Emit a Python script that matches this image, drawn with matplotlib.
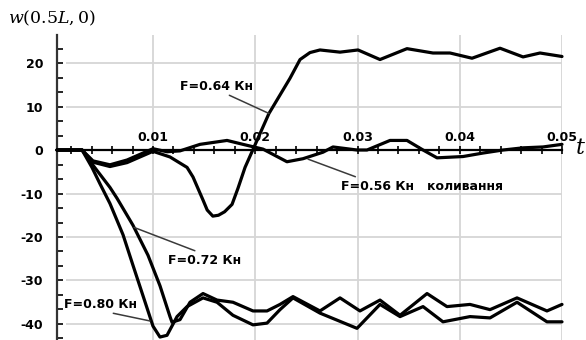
import matplotlib
matplotlib.use('Agg')
import matplotlib.pyplot as plt
from matplotlib.ticker import MultipleLocator, AutoMinorLocator

plt.rcParams['mathtext.fontset'] = 'dejavuserif'

# deflection w(0.5L, 0) vs time t, four load levels
t_056 = [0.00061, 0.00306, 0.00413, 0.00579, 0.00746, 0.00902, 0.0100, 0.01137, 0.01264,
         0.0146, 0.01724, 0.0188, 0.02076, 0.0231, 0.02467, 0.02663, 0.0276, 0.02995,
         0.03093, 0.03318, 0.03484, 0.03641, 0.03778, 0.04032, 0.04227, 0.04423,
         0.04619, 0.04814, 0.05]
w_056 = [0, 0, -2.5, -3.4, -2.3, -0.7, 0.3, -0.4, -0.2,
         1.3, 2.2, 1.3, 0.2, -2.7, -2.0, -0.5, 0.7, 0.0,
         0.0, 2.2, 2.2, 0.0, -1.8, -1.5, -0.7, 0.0,
         0.5, 0.7, 1.3]

t_064 = [0.00061, 0.00306, 0.00413, 0.00579, 0.00746, 0.00902, 0.0100, 0.01166, 0.01333,
         0.01391, 0.01489, 0.0153, 0.01585, 0.0164, 0.01700, 0.01773, 0.01831, 0.019,
         0.02134, 0.0234, 0.02438, 0.02535, 0.02633, 0.02829, 0.03005, 0.0322, 0.03484,
         0.03738, 0.03905, 0.0412, 0.04394, 0.04619, 0.04785, 0.05]
w_064 = [0, 0, -2.8, -3.8, -2.9, -1.3, -0.3, -1.6, -4.0,
         -6.2, -11.5, -13.8, -15.2, -15.0, -14.2, -12.5, -8.8, -4.0,
         8.4, 16.5, 20.8, 22.4, 23.0, 22.5, 23.0, 20.8, 23.3,
         22.3, 22.3, 21.1, 23.4, 21.4, 22.3, 21.5]

t_072 = [0.00061, 0.00306, 0.00413, 0.00579, 0.00648, 0.00804, 0.00951, 0.01068, 0.01166,
         0.01186, 0.01264, 0.01362, 0.01489, 0.01626, 0.01782, 0.01978, 0.02115, 0.02242,
         0.02369, 0.02633, 0.02829, 0.03024, 0.0322, 0.03416, 0.0368, 0.03875, 0.041,
         0.04296, 0.0456, 0.04853, 0.05]
w_072 = [0, 0, -3.5, -8.6, -11.1, -17.3, -24.2, -31.2, -38.3,
         -39.6, -39.0, -35.0, -33.0, -34.5, -35.0, -37.0, -37.0, -35.5,
         -33.7, -37.0, -34.0, -37.0, -34.5, -38.0, -33.0, -36.0, -35.5,
         -36.7, -34.0, -37.0, -35.5]

t_080 = [0.00061, 0.00306, 0.00403, 0.00482, 0.00579, 0.00707, 0.00804, 0.00902, 0.0100,
         0.01068, 0.01137, 0.01235, 0.01333, 0.01489, 0.01626, 0.01782, 0.01978, 0.02115,
         0.02242, 0.02369, 0.02633, 0.02995, 0.0322, 0.03416, 0.03641, 0.03836, 0.041,
         0.04296, 0.0456, 0.04853, 0.05]
w_080 = [0, 0, -4.0, -7.8, -12.3, -19.5, -26.5, -33.5, -40.5,
         -43.0, -42.6, -38.3, -36.0, -34.0, -35.0, -38.0, -40.2, -39.8,
         -36.7, -34.0, -37.5, -41.0, -35.5, -38.3, -36.0, -39.5, -38.3,
         -38.6, -35.0, -39.5, -39.5]

x_ticks = [0.01, 0.02, 0.03, 0.04, 0.05]
x_labels = ['0.01', '0.02', '0.03', '0.04', '0.05']
y_ticks = [-40, -30, -20, -10, 0, 10, 20]
y_labels = ['-40', '-30', '-20', '-10', '0', '10', '20']

W, H = 586, 340


def px(x, y):
    # pixel position (from top-left) -> figure fraction
    return x / W, 1 - y / H


fig = plt.figure(figsize=(W / 100, H / 100), dpi=100)
ax = fig.add_axes([57 / W, 0, (562 - 57) / W, (H - 35) / H])
ax.set_xlim(0.00061, 0.05)
ax.set_ylim(-43.68, 26.44)

grid_c = '#d6d6d6'
for yv in y_ticks:
    if yv != 0:
        ax.hlines(yv, 0.0015, 0.05, color=grid_c, lw=1.3, zorder=1)
for xv in x_ticks:
    ax.axvline(xv, color=grid_c, lw=1.3, zorder=1)

for t, w in [(t_056, w_056), (t_064, w_064), (t_072, w_072), (t_080, w_080)]:
    ax.plot(t, w, color='black', lw=2.3, solid_joinstyle='round',
            solid_capstyle='round', clip_on=False, zorder=3)

# spines: y axis on the left, x axis through zero with labels above
ax.spines['right'].set_visible(False)
ax.spines['bottom'].set_visible(False)
ax.spines['top'].set_position(('data', 0))
ax.spines['top'].set_linewidth(1.6)
ax.spines['left'].set_linewidth(1.6)
ax.spines['left'].set_color('#333333')
ax.xaxis.set_ticks_position('top')
ax.set_xticks(x_ticks)
ax.set_xticklabels(x_labels, fontsize=9, fontweight='bold')
ax.xaxis.set_minor_locator(MultipleLocator(0.002))
ax.tick_params(axis='x', which='both', direction='inout', length=6, width=1.2, pad=1)
ax.set_yticks(y_ticks)
ax.set_yticklabels(y_labels, fontsize=9, fontweight='bold')
ax.yaxis.set_minor_locator(AutoMinorLocator(3))
ax.tick_params(axis='y', which='both', direction='in', length=4, width=1.2, pad=10)

lab = dict(fontsize=9, fontweight='bold', ha='center', va='center',
           textcoords='figure fraction', annotation_clip=False)
ap = dict(arrowstyle='-', color='#3a3a3a', lw=1.1, shrinkA=0, shrinkB=0)
ax.annotate('F=0.64 Кн', xy=(0.02134, 8.4), xytext=px(216, 86),
            arrowprops=dict(ap, relpos=(0.6, 0)), **lab)
ax.annotate('F=0.56 Кн   коливання', xy=(0.02516, -2.1), xytext=px(422, 186),
            arrowprops=dict(ap, relpos=(0.135, 1)), **lab)
ax.annotate('F=0.72 Кн', xy=(0.00815, -17.8), xytext=px(205, 260),
            arrowprops=dict(ap, relpos=(0.46, 1)), **lab)
ax.annotate('F=0.80 Кн', xy=(0.0097, -39.3), xytext=px(100, 304),
            arrowprops=dict(ap, relpos=(0.5, 0)), **lab)

fig.text(*px(8, 18), r'$w(0.5L,0)$', fontsize=12.5, ha='left', va='center')
fig.text(*px(580, 148), r'$t$', fontsize=16, ha='center', va='center')

fig.savefig('out.png', dpi=100)
